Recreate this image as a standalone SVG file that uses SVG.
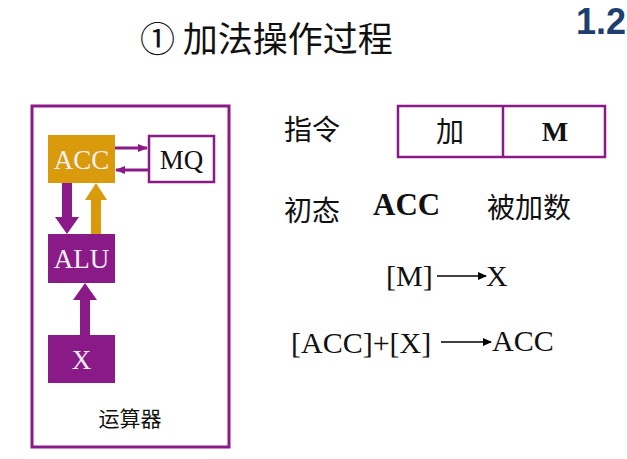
<svg xmlns="http://www.w3.org/2000/svg" width="627" height="459" viewBox="0 0 627 459">
<style>
.cjk{font-family:"Noto Sans CJK SC","Liberation Sans",sans-serif}
.ser{font-family:"Liberation Serif","Noto Sans CJK SC",serif}
.pb{fill:#8b1a89}
.frame{fill:none;stroke:#8b1a89;stroke-width:3}
.lbl{font-family:"Liberation Serif",serif;font-size:27px;fill:#f5f0f5;text-anchor:middle}
</style>
<defs>
<marker id="ah" markerWidth="9" markerHeight="8" refX="8" refY="4" orient="auto" markerUnits="userSpaceOnUse"><path d="M0,0 L9,4 L0,8 Z" fill="#000"/></marker>
<marker id="ap" markerWidth="10" markerHeight="8" refX="9" refY="4" orient="auto" markerUnits="userSpaceOnUse"><path d="M0,0 L10,4 L0,8 Z" fill="#8b1a89"/></marker>
</defs>
<rect width="627" height="459" fill="#fff"/>
<text x="140" y="52" class="cjk" font-size="35" fill="#111">① 加法操作过程</text>
<text x="576" y="34" font-family="Liberation Sans,sans-serif" font-weight="bold" font-size="36" fill="#1f3f6e">1.2</text>
<rect x="32" y="106" width="197" height="341" class="frame"/>
<g id="connectors">
<line x1="115" y1="148" x2="147" y2="148" stroke="#8b1a89" stroke-width="3" marker-end="url(#ap)"/>
<line x1="148" y1="170" x2="116" y2="170" stroke="#8b1a89" stroke-width="3" marker-end="url(#ap)"/>
<path d="M62,183 H72 V217 H79 L67,234 L55,217 H62 Z" class="pb"/>
<path d="M91,234 H101 V200 H107 L96,183 L85,200 H91 Z" fill="#d99a0b"/>
<path d="M80,335 H90 V300 H97 L85,283 L73,300 H80 Z" class="pb"/>
</g>
<g id="acc"><rect x="48" y="135" width="67" height="48" fill="#d99a0b"/><text x="81.5" y="169" class="lbl">ACC</text></g>
<g id="mq"><rect x="149" y="136" width="65" height="46" fill="#fff" stroke="#8b1a89" stroke-width="2.5"/><text x="181.5" y="169" class="lbl" style="fill:#111">MQ</text></g>
<g id="alu"><rect x="48" y="234" width="67" height="49" class="pb"/><text x="81.5" y="268" class="lbl">ALU</text></g>
<g id="x"><rect x="48" y="335" width="67" height="48" class="pb"/><text x="81.5" y="369" class="lbl">X</text></g>
<text x="130" y="426" class="cjk" font-size="21" fill="#111" text-anchor="middle">运算器</text>
<g id="instr">
<rect x="398" y="106" width="207" height="51" fill="#fff" stroke="#8b1a89" stroke-width="2.5"/>
<line x1="503" y1="106" x2="503" y2="157" stroke="#8b1a89" stroke-width="2.5"/>
<text x="450" y="142" class="cjk" font-size="28" fill="#111" text-anchor="middle">加</text>
<text x="555" y="141" class="ser" font-size="28" font-weight="bold" fill="#111" text-anchor="middle">M</text>
</g>
<text x="284" y="140" class="cjk" font-size="28" fill="#111">指令</text>
<text x="284" y="221" class="cjk" font-size="28" fill="#111">初态</text>
<text x="373" y="215" class="ser" font-size="31" font-weight="bold" fill="#111">ACC</text>
<text x="487" y="218" class="cjk" font-size="28" fill="#111">被加数</text>
<text x="386" y="286" class="ser" font-size="30" fill="#111">[M]</text>
<line x1="437" y1="276" x2="486" y2="276" stroke="#000" stroke-width="1.5" marker-end="url(#ah)"/>
<text x="486" y="286" class="ser" font-size="30" fill="#111">X</text>
<text x="291" y="353" class="ser" font-size="30" fill="#111">[ACC]+[X]</text>
<line x1="441" y1="342" x2="491" y2="342" stroke="#000" stroke-width="1.5" marker-end="url(#ah)"/>
<text x="492" y="351" class="ser" font-size="30" fill="#111">ACC</text>
</svg>
